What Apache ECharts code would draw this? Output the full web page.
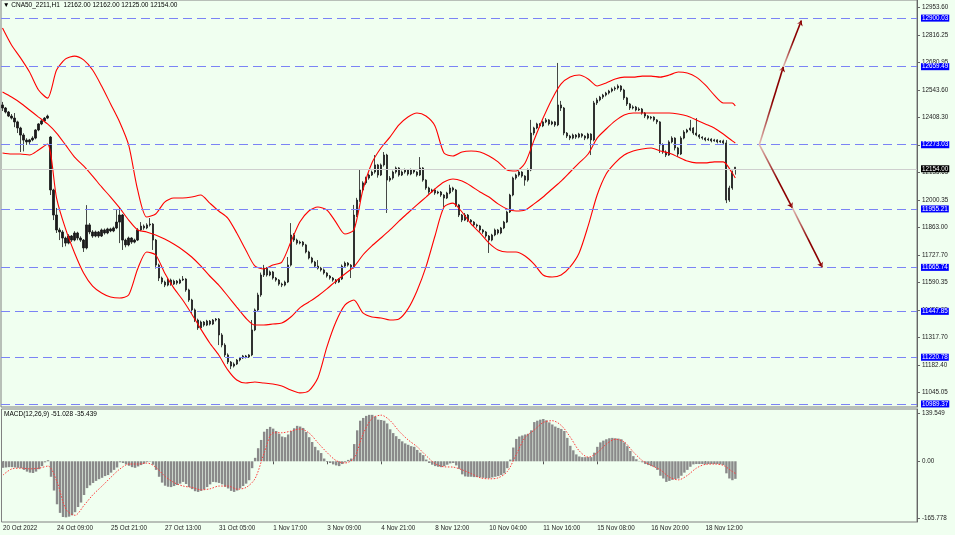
<!DOCTYPE html>
<html><head><meta charset="utf-8">
<script src="https://cdn.jsdelivr.net/npm/echarts@6/dist/echarts.min.js"></script>
<style>html,body{margin:0;padding:0;background:#F0FFF0;}#c{width:955px;height:535px;}</style>
</head><body><div id="c"></div>
<script>
const chartTitle = '\u25BC CNA50_2211,H1  12162.00 12162.00 12125.00 12154.00';
const macdTitle = 'MACD(12,26,9) -51.028 -35.439';
const xTickLabels = ['20 Oct 2022','24 Oct 09:00','25 Oct 21:00','27 Oct 13:00','31 Oct 05:00','1 Nov 17:00','3 Nov 09:00','4 Nov 21:00','8 Nov 12:00','10 Nov 04:00','11 Nov 16:00','15 Nov 08:00','16 Nov 20:00','18 Nov 12:00'];
const barsPerTick = 18;
const slotCount = 305;
const priceTicks = [12953.60,12816.25,12680.95,12543.60,12408.30,12270.95,12135.65,12000.35,11863.00,11727.70,11590.35,11455.05,11317.70,11182.40,11045.05];
const macdTicks = [139.549, 0, -165.778];
const macdTickLabels = ['139.549','0.00','-165.778'];
const levels = [12900.03,12659.49,12273.03,11955.21,11665.74,11447.85,11220.78,10989.37];
const lastPrice = 12154.00;

const opens = [
12470,12455,12435,12415,12405,12386,12356,12321,12296,12287,
12297,12306,12346,12376,12391,12405,12311,12049,11925,11851,
11841,11811,11786,11821,11801,11836,11811,11801,11762,11876,
11841,11821,11841,11821,11851,11836,11856,11846,11861,11890,
11925,11801,11777,11811,11791,11801,11851,11870,11861,11876,
11880,11801,11677,11613,11593,11578,11603,11583,11598,11588,
11603,11608,11554,11504,11455,11405,11366,11395,11380,11400,
11385,11405,11410,11331,11281,11232,11197,11177,11187,11207,
11217,11227,11222,11232,11356,11455,11529,11628,11662,11628,
11643,11613,11603,11583,11578,11593,11677,11826,11801,11786,
11791,11777,11742,11712,11692,11672,11662,11653,11638,11623,
11613,11603,11593,11608,11672,11687,11677,11667,11925,11999,
12049,12084,12108,12123,12138,12173,12123,12173,12222,12098,
12108,12138,12158,12123,12138,12148,12128,12148,12138,12123,
12158,12098,12059,12039,12049,12034,12039,12024,12009,12034,
12059,12049,11975,11925,11900,11925,11900,11890,11876,11871,
11851,11841,11821,11801,11826,11851,11836,11861,11890,11940,
12024,12108,12123,12138,12118,12098,12148,12331,12356,12376,
12366,12386,12396,12376,12386,12371,12470,12455,12331,12316,
12306,12321,12311,12326,12316,12306,12326,12297,12480,12495,
12509,12519,12529,12539,12549,12554,12564,12544,12505,12475,
12455,12460,12445,12450,12430,12415,12405,12410,12396,12386,
12272,12237,12222,12287,12306,12257,12227,12306,12336,12346,
12356,12331,12321,12311,12306,12297,12301,12292,12297,12287,
12292,12282,11999,12059,12162];
const closes = [
12455,12435,12415,12405,12386,12356,12321,12296,12287,12297,
12306,12346,12376,12391,12405,12415,12049,11925,11851,11841,
11811,11786,11821,11801,11836,11811,11801,11762,11876,11841,
11821,11841,11821,11851,11836,11856,11846,11861,11890,11925,
11801,11777,11811,11791,11801,11851,11870,11861,11876,11880,
11801,11677,11613,11593,11578,11603,11583,11598,11588,11603,
11608,11554,11504,11455,11405,11366,11395,11380,11400,11385,
11405,11410,11331,11281,11232,11197,11177,11187,11207,11217,
11227,11222,11232,11356,11455,11529,11628,11662,11628,11643,
11613,11603,11583,11578,11593,11677,11826,11801,11786,11791,
11777,11742,11712,11692,11672,11662,11653,11638,11623,11613,
11603,11593,11608,11672,11687,11677,11667,11925,11999,12049,
12084,12108,12123,12138,12173,12123,12173,12222,12098,12108,
12138,12158,12123,12138,12148,12128,12148,12138,12123,12158,
12098,12059,12039,12049,12034,12039,12024,12009,12034,12059,
12049,11975,11925,11900,11925,11900,11890,11876,11871,11851,
11841,11821,11801,11826,11851,11836,11861,11890,11940,12024,
12108,12123,12138,12118,12098,12148,12331,12356,12376,12366,
12386,12396,12376,12386,12371,12470,12455,12331,12316,12306,
12321,12311,12326,12316,12306,12326,12297,12480,12495,12509,
12519,12529,12539,12549,12554,12564,12544,12505,12475,12455,
12460,12445,12450,12430,12415,12405,12410,12396,12386,12272,
12237,12222,12287,12306,12257,12227,12306,12336,12346,12356,
12331,12321,12311,12306,12297,12301,12292,12297,12287,12292,
12282,11999,12059,12135,12154];
const lows = [
12440,12428,12410,12398,12360,12331,12237,12240,12272,12275,
12290,12300,12340,12370,12385,12400,12024,11900,11836,11801,
11766,11770,11780,11792,11795,11800,11792,11742,11755,11830,
11812,11815,11812,11816,11828,11830,11840,11840,11855,11786,
11752,11765,11770,11782,11785,11796,11845,11852,11855,11868,
11752,11660,11598,11583,11568,11572,11575,11578,11580,11583,
11598,11545,11495,11440,11395,11356,11360,11372,11375,11378,
11380,11398,11281,11270,11222,11187,11162,11170,11182,11200,
11212,11215,11217,11226,11350,11448,11520,11618,11620,11622,
11605,11595,11575,11568,11572,11588,11670,11792,11778,11780,
11768,11735,11705,11685,11665,11655,11645,11630,11615,11605,
11595,11583,11588,11603,11665,11670,11613,11660,11915,11990,
12040,12075,12100,12118,12130,12110,12118,12165,11935,12090,
12100,12130,12115,12118,12130,12120,12122,12130,12115,12118,
12090,12050,12030,12034,12025,12028,12015,11965,12004,12028,
12040,11965,11915,11890,11895,11890,11882,11868,11862,11842,
11832,11812,11737,11795,11820,11828,11830,11855,11885,11935,
12018,12100,12115,12110,12070,12090,12142,12320,12350,12358,
12360,12380,12368,12370,12362,12365,12440,12320,12306,12296,
12300,12302,12305,12308,12296,12300,12222,12290,12470,12488,
12500,12512,12522,12532,12540,12546,12535,12495,12465,12445,
12448,12438,12440,12422,12405,12398,12398,12388,12375,12232,
12228,12212,12218,12280,12245,12212,12222,12300,12330,12340,
12322,12315,12302,12298,12290,12292,12285,12288,12280,12282,
12272,11984,11990,12050,12125];
const highs = [
12485,12460,12440,12425,12430,12392,12362,12330,12305,12302,
12315,12350,12380,12396,12410,12422,12316,12055,11960,11862,
11850,11818,11830,11826,11845,11842,11820,11806,11974,11885,
11850,11848,11846,11858,11858,11862,11862,11868,11950,11960,
11930,11808,11818,11815,11808,11860,11890,11878,11884,11910,
11885,11806,11684,11620,11600,11612,11610,11605,11603,11610,
11623,11612,11560,11510,11462,11412,11402,11400,11406,11405,
11410,11415,11415,11340,11290,11240,11202,11195,11212,11222,
11232,11232,11236,11405,11462,11540,11640,11678,11667,11650,
11648,11618,11608,11590,11600,11717,11885,11835,11808,11798,
11796,11782,11748,11718,11698,11702,11668,11660,11642,11628,
11618,11608,11612,11680,11695,11692,11682,11975,12010,12148,
12092,12115,12130,12145,12222,12178,12180,12237,12228,12118,
12145,12165,12162,12145,12155,12152,12155,12152,12142,12212,
12162,12102,12065,12055,12055,12045,12044,12028,12040,12075,
12065,12054,11980,11930,11935,11930,11905,11895,11882,11876,
11856,11846,11826,11832,11858,11856,11866,11896,11946,12030,
12115,12130,12145,12142,12122,12155,12396,12362,12382,12380,
12392,12405,12400,12392,12390,12678,12490,12460,12336,12322,
12328,12326,12332,12330,12320,12332,12330,12490,12505,12515,
12525,12535,12545,12556,12562,12572,12568,12550,12510,12480,
12468,12465,12458,12455,12435,12420,12415,12414,12400,12390,
12280,12245,12295,12315,12310,12262,12315,12345,12352,12396,
12360,12405,12326,12315,12310,12308,12305,12302,12300,12296,
12298,12296,12070,12145,12162];

// Bollinger bands read every 3 bars (last value = last bar)
const bandStep = 3;
const bbUpper = [
12851,12767,12703,12633,12544,12504,12643,12698,12712,12693,
12643,12564,12475,12386,12272,12049,11915,11930,11989,12009,
12009,12014,12024,11984,11945,11910,11836,11752,11673,11658,
11677,11692,11791,11890,11945,11965,11950,11890,11831,11851,
12049,12183,12257,12311,12371,12410,12430,12415,12366,12232,
12217,12237,12242,12237,12217,12188,12148,12143,12183,12296,
12405,12500,12574,12608,12618,12599,12564,12579,12599,12608,
12608,12613,12613,12608,12618,12633,12628,12608,12569,12519,
12480,12480,12465];
const bbMid = [
12534,12509,12480,12445,12410,12376,12331,12272,12212,12168,
12118,12064,12014,11960,11900,11851,11841,11826,11806,11781,
11752,11717,11673,11623,11578,11524,11469,11415,11380,11380,
11385,11390,11420,11465,11494,11524,11559,11598,11633,11668,
11727,11772,11811,11851,11895,11935,11975,12014,12054,12088,
12103,12093,12069,12039,12014,11980,11955,11945,11950,11980,
12014,12054,12093,12138,12183,12227,12306,12351,12391,12420,
12430,12430,12430,12430,12430,12425,12415,12396,12376,12356,
12326,12292,12282];
const bbLower = [
12232,12227,12227,12222,12247,12277,12009,11856,11737,11638,
11573,11539,11519,11514,11529,11658,11742,11727,11638,11564,
11504,11435,11361,11291,11232,11158,11108,11093,11098,11093,
11088,11078,11058,11044,11054,11118,11271,11395,11479,11504,
11440,11420,11415,11405,11410,11460,11549,11668,11821,11965,
11984,11940,11881,11836,11786,11752,11742,11742,11722,11682,
11628,11618,11628,11668,11737,11871,12024,12128,12183,12222,
12242,12252,12257,12242,12232,12212,12192,12183,12183,12188,
12188,12133,12108];

const macdMain = [
-19,-18,-17,-17,-18,-19,-20,-25,-30,-33,
-34,-30,-23,-14,-3,3,-45,-85,-125,-150,
-162,-163,-161,-157,-148,-133,-120,-98,-78,-70,
-63,-57,-52,-48,-43,-40,-33,-25,-18,-3,
-5,-9,-13,-17,-19,-15,-11,-7,-2,-1,
-10,-25,-45,-62,-71,-74,-75,-72,-69,-65,
-60,-66,-75,-81,-87,-89,-86,-82,-75,-67,
-60,-61,-63,-67,-74,-79,-86,-89,-85,-79,
-72,-65,-55,-20,10,38,62,86,94,100,
95,88,80,72,70,78,88,96,103,101,
97,85,70,56,42,32,24,8,-2,-5,
-9,-12,-14,-8,-3,4,8,50,90,118,
126,132,135,135,130,121,120,118,110,93,
82,73,65,58,52,48,44,42,33,25,
18,5,-5,-10,-14,-16,-17,-14,-10,-6,
-5,-12,-22,-38,-44,-45,-45,-46,-46,-47,
-48,-49,-49,-47,-45,-43,-40,-35,-20,5,
40,65,72,75,78,80,90,114,118,121,
123,119,113,107,101,97,94,88,68,45,
32,20,14,12,12,12,12,25,42,55,
60,64,67,68,67,66,64,55,44,30,
15,6,1,-3,-8,-11,-14,-17,-25,-42,
-50,-60,-57,-54,-52,-50,-42,-33,-25,-16,
-9,-8,-8,-8,-8,-8,-8,-8,-8,-9,
-11,-35,-50,-55,-51.028];
const macdSignal = [
-40,-22,-20,-22,-20,-14,-60,-140,-157,-128,
-97,-72,-46,-22,-8,-8,-5,-18,-44,-62,
-72,-76,-83,-80,-72,-72,-81,-76,-50,24,
83,83,88,94,82,53,25,2,-5,10,
80,125,134,118,87,62,42,16,-7,-16,
-17,-25,-36,-48,-51,-48,-30,20,70,91,
113,118,104,70,30,12,25,50,64,56,
27,2,-12,-25,-46,-54,-41,-20,-9,-8,
-12,-30,-35.439];

// projection arrows: [bar index, price]
const arrowUp = [[252,12273.03],[260,12659.49],[266,12888]];
const arrowDown = [[252,12273.03],[263,11960],[273,11665.74]];

const priceMin = 10974.3, priceMax = 12989.75;
const macdMin = -176.5, macdMax = 152.0;

const categories = [];
for (let i = 0; i < slotCount; i++) categories.push('');
xTickLabels.forEach((t, k) => { categories[k * barsPerTick] = t; });

const lastBar = opens.length - 1;
const candles = opens.map((o, i) => [o, closes[i], lows[i], highs[i]]);
const sampled = arr => arr.map((v, k) => [k === arr.length - 1 ? lastBar : k * bandStep, v]);

const ARROW_DARK = '#8B0000', ARROW_LIGHT = '#EBCFC8';
const segs = [];
[arrowUp, arrowDown].forEach(pl => {
  for (let i = 0; i < pl.length - 1; i++) {
    const a = pl[i], b = pl[i + 1];
    const up = b[1] > a[1];
    segs.push({
      coords: [a, b],
      lineStyle: {
        color: {type: 'linear', x: 0, y: up ? 1 : 0, x2: 1, y2: up ? 0 : 1,
                colorStops: [{offset: 0, color: ARROW_LIGHT}, {offset: 0.55, color: ARROW_DARK}, {offset: 1, color: ARROW_DARK}]}
      }
    });
  }
});

const FONT = "'Liberation Sans','DejaVu Sans',sans-serif";
const chart = echarts.init(document.getElementById('c'));
const showTick = (i, v) => v !== '';
const bandLine = (data) => ({
  type: 'line', xAxisIndex: 0, yAxisIndex: 0, data: sampled(data), showSymbol: false, symbol: 'none',
  smooth: 0.25, z: 3, lineStyle: {color: '#FF0000', width: 1.1}, silent: true
});

chart.setOption({
  animation: false,
  backgroundColor: '#F0FFF0',
  textStyle: {fontFamily: FONT},
  grid: [
    {left: 1, right: 38, top: 0, height: 407, show: true, borderColor: '#808080', borderWidth: 1},
    {left: 1, right: 38, top: 409, height: 113, show: true, borderColor: '#808080', borderWidth: 1}
  ],
  xAxis: [
    {type: 'category', gridIndex: 0, data: categories, boundaryGap: true,
     axisLine: {show: false}, axisTick: {show: false}, axisLabel: {show: false}, splitLine: {show: false}},
    {type: 'category', gridIndex: 1, data: categories, boundaryGap: true,
     axisLine: {show: false},
     axisTick: {show: true, alignWithLabel: true, length: 3, interval: showTick, lineStyle: {color: '#555'}},
     axisLabel: {show: true, interval: showTick, align: 'left', fontSize: 6.3, color: '#222', margin: 3, fontFamily: FONT},
     splitLine: {show: false}}
  ],
  yAxis: [
    {type: 'value', gridIndex: 0, position: 'right', min: priceMin, max: priceMax,
     splitLine: {show: false},
     axisLine: {show: true, lineStyle: {color: '#666'}},
     axisTick: {show: true, length: 3, customValues: priceTicks, lineStyle: {color: '#666'}},
     axisLabel: {show: true, customValues: priceTicks, formatter: v => v.toFixed(2), fontSize: 6.3, color: '#222', margin: 5, fontFamily: FONT}},
    {type: 'value', gridIndex: 1, position: 'right', min: macdMin, max: macdMax,
     splitLine: {show: false},
     axisLine: {show: true, lineStyle: {color: '#666'}},
     axisTick: {show: true, length: 3, customValues: macdTicks, lineStyle: {color: '#666'}},
     axisLabel: {show: true, customValues: macdTicks,
       formatter: v => { const k = macdTicks.findIndex(t => Math.abs(t - v) < 1e-6); return k >= 0 ? macdTickLabels[k] : ''; },
       fontSize: 6.3, color: '#222', margin: 5, fontFamily: FONT}}
  ],
  graphic: [
    {type: 'text', left: 3, top: 2, z: 10, style: {text: chartTitle, fontSize: 6.5, fill: '#000', fontFamily: FONT}},
    {type: 'text', left: 4, top: 411, z: 10, style: {text: macdTitle, fontSize: 6.5, fill: '#000', fontFamily: FONT}}
  ],
  series: [
    {type: 'candlestick', xAxisIndex: 0, yAxisIndex: 0, data: candles, barWidth: 1.8, z: 2,
     itemStyle: {color: '#1a1a1a', color0: '#1a1a1a', borderColor: '#1a1a1a', borderColor0: '#1a1a1a', borderWidth: 0.8},
     markLine: {
       silent: true, symbol: ['none', 'none'], animation: false,
       lineStyle: {color: '#7B83F5', type: [9, 5], width: 1},
       label: {show: true, position: 'end', formatter: p => Number(p.value).toFixed(2),
               backgroundColor: '#0000FF', color: '#FFFFFF', fontSize: 6.3, padding: [1, 1, 0, 1], distance: 4, fontFamily: FONT},
       data: levels.map(v => ({yAxis: v})).concat([
         {yAxis: lastPrice, lineStyle: {color: '#CFCFCF', type: 'solid', width: 1},
          label: {backgroundColor: '#000000', color: '#FFFFFF'}}
       ])
     }},
    bandLine(bbUpper),
    bandLine(bbMid),
    bandLine(bbLower),
    {type: 'lines', coordinateSystem: 'cartesian2d', xAxisIndex: 0, yAxisIndex: 0, z: 5,
     symbol: ['none', 'arrow'], symbolSize: 5,
     lineStyle: {color: ARROW_DARK, width: 1.6, opacity: 1, curveness: 0},
     data: segs, silent: true},
    {type: 'bar', xAxisIndex: 1, yAxisIndex: 1, data: macdMain, barWidth: 2.4,
     itemStyle: {color: '#8a8a8a'}, silent: true},
    {type: 'line', xAxisIndex: 1, yAxisIndex: 1, data: sampled(macdSignal), showSymbol: false, symbol: 'none',
     smooth: 0.3, z: 4, lineStyle: {color: '#FF3B3B', width: 1, type: [1.5, 1.5]}, silent: true}
  ]
});
</script>
</body></html>
